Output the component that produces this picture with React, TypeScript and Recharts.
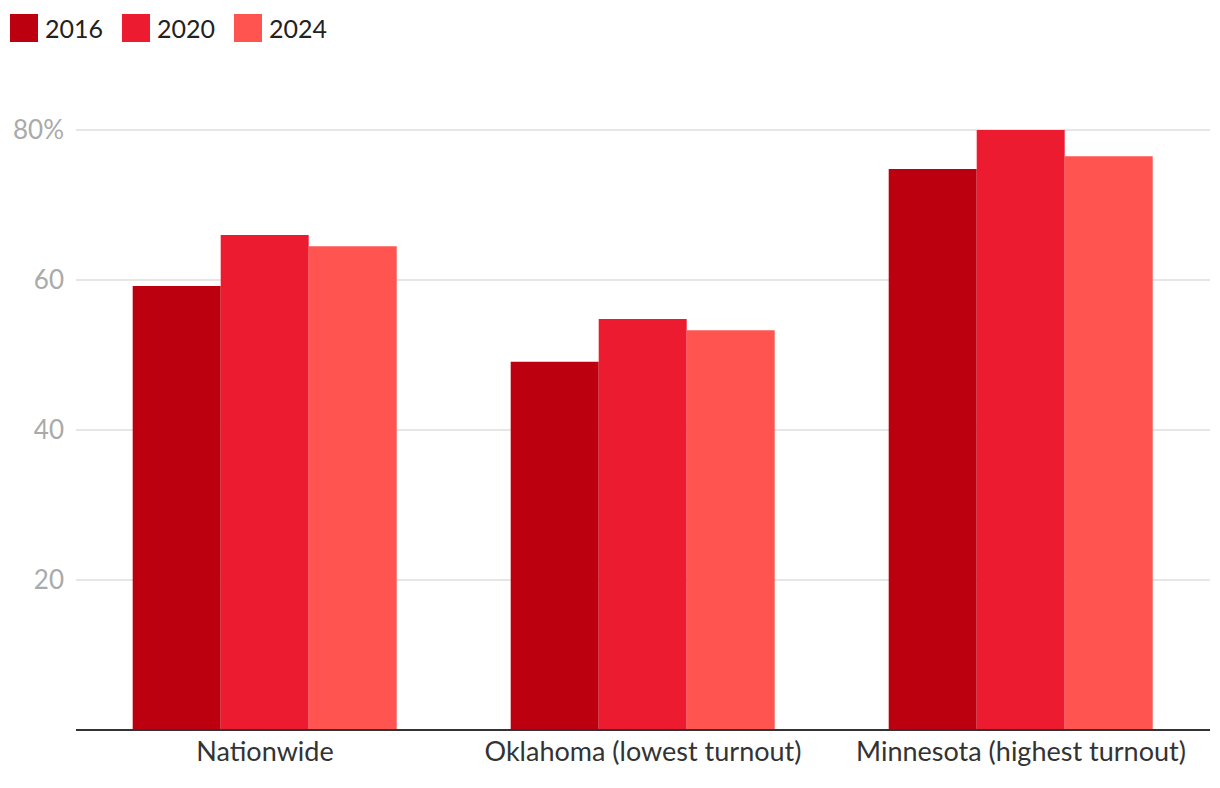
import { BarChart, Bar, XAxis, YAxis, CartesianGrid } from 'recharts';

const places = ['Nationwide', 'Oklahoma (lowest turnout)', 'Minnesota (highest turnout)'];
const turnout2016 = [59.2, 49.1, 74.8];
const turnout2020 = [66.0, 54.8, 80.0];
const turnout2024 = [64.5, 53.3, 76.5];
const yTicks = [20, 40, 60, 80];

const years = [
  { key: 'y2016', label: '2016', color: '#bc0010' },
  { key: 'y2020', label: '2020', color: '#ec1b30' },
  { key: 'y2024', label: '2024', color: '#ff5450' },
];

const data = places.map((name, i) => ({
  name,
  y2016: turnout2016[i],
  y2020: turnout2020[i],
  y2024: turnout2024[i],
}));

const font = 'Lato, "Noto Sans", sans-serif';

export default function App() {
  return (
    <div style={{ position: 'absolute', left: 0, top: 0, width: 1220, height: 788, background: '#fff', fontFamily: font }}>
      <div style={{ position: 'absolute', left: 10, top: 13, display: 'flex', gap: 19 }}>
        {years.map((y) => (
          <div key={y.key} style={{ display: 'flex', alignItems: 'center', gap: 7 }}>
            <span style={{ width: 28, height: 28, background: y.color, display: 'inline-block' }} />
            <span style={{ fontSize: 25, color: '#222', lineHeight: '30px' }}>{y.label}</span>
          </div>
        ))}
      </div>
      <BarChart
        width={1220}
        height={788}
        data={data}
        margin={{ top: 130, right: 10, bottom: 18, left: 0 }}
        barCategoryGap="15%"
        barGap={0}
      >
        <CartesianGrid vertical={false} stroke="#e6e6e6" strokeWidth={2} />
        <XAxis
          dataKey="name"
          axisLine={{ stroke: '#333', strokeWidth: 2 }}
          tickLine={false}
          height={40}
          tick={{ fill: '#333', fontSize: 27, fontFamily: font }}
          tickMargin={6}
        />
        <YAxis
          domain={[0, 80]}
          ticks={yTicks}
          width={76}
          axisLine={false}
          tickLine={false}
          tickMargin={6}
          tick={{ fill: '#aaa', fontSize: 26, fontFamily: font }}
          tickFormatter={(v: number) => (v === 80 ? `${v}%` : `${v}`)}
        />
        {years.map((y) => (
          <Bar key={y.key} dataKey={y.key} fill={y.color} isAnimationActive={false} />
        ))}
      </BarChart>
    </div>
  );
}
